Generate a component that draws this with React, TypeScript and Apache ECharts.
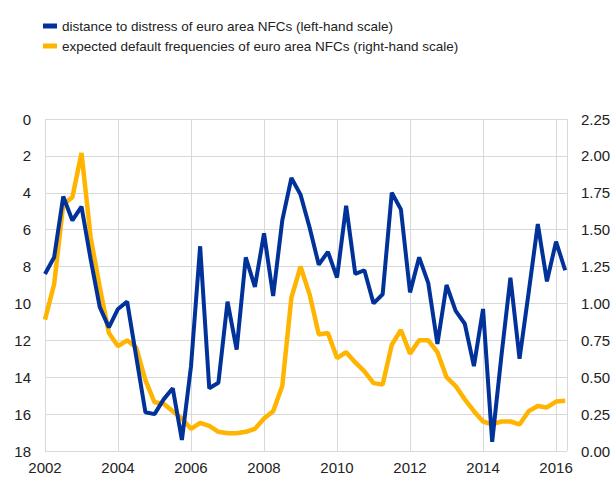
import React, { useEffect, useRef } from "react";
import * as echarts from "echarts";

const START_YEAR = 2002;
const distanceToDistress = [
  8.4, 7.5, 4.2, 5.5, 4.75, 7.6, 10.2, 11.3, 10.3, 9.9,
  12.9, 15.9, 16.0, 15.2, 14.6, 17.4, 13.4, 6.9, 14.6, 14.3,
  9.9, 12.5, 7.5, 9.1, 6.2, 9.6, 5.5, 3.2, 4.1, 5.9,
  7.9, 7.2, 8.6, 4.7, 8.4, 8.2, 10.0, 9.5, 4.0, 4.9,
  9.4, 7.5, 8.9, 12.2, 9.0, 10.4, 11.1, 13.4, 10.3, 17.5,
  12.9, 8.6, 13.0, 9.4, 5.7, 8.8, 6.65, 8.2,
];
const expectedDefault = [
  0.89, 1.13, 1.67, 1.72, 2.02, 1.45, 1.11, 0.8, 0.71, 0.75,
  0.7, 0.48, 0.33, 0.32, 0.27, 0.22, 0.15, 0.19, 0.17, 0.13,
  0.12, 0.12, 0.13, 0.15, 0.22, 0.27, 0.44, 1.04, 1.25, 1.06,
  0.79, 0.8, 0.63, 0.67, 0.6, 0.54, 0.46, 0.45, 0.72, 0.82,
  0.66, 0.75, 0.75, 0.67, 0.5, 0.44, 0.35, 0.27, 0.2, 0.18,
  0.2, 0.2, 0.18, 0.27, 0.305, 0.295, 0.335, 0.34,
];
const quarterDates = distanceToDistress.map((_, i) => START_YEAR + i * 0.25);
const seriesNames = [
  "distance to distress of euro area NFCs (left-hand scale)",
  "expected default frequencies of euro area NFCs (right-hand scale)",
];
const leftTicks = { min: 0, max: 18, interval: 2 };
const rightTicks = { min: 0, max: 2.25, interval: 0.25 };

export default function App() {
  const ref = useRef<HTMLDivElement>(null);
  useEffect(() => {
    if (!ref.current) return;
    const chart = echarts.init(ref.current, null, { renderer: "svg" });
    const grid = "#d9d9d9";
    const font = "Liberation Sans, Arial, sans-serif";
    chart.setOption({
      animation: false,
      textStyle: { fontFamily: font },
      legend: {
        orient: "vertical",
        left: 38,
        top: 14,
        itemWidth: 14,
        itemHeight: 5,
        itemGap: 6,
        icon: "rect",
        textStyle: { fontSize: 13.5, color: "#222", fontFamily: font },
        data: seriesNames.map((n) => ({ name: n, icon: "rect" })),
      },
      grid: { left: 45, right: 49, top: 119, bottom: 26, containLabel: false },
      xAxis: {
        type: "value",
        min: START_YEAR,
        max: 2016.3,
        interval: 2,
        axisLine: { show: false },
        axisTick: { show: false },
        splitLine: { show: true, lineStyle: { color: grid, width: 1 } },
        axisLabel: {
          fontSize: 15,
          color: "#222",
          margin: 9,
          showMaxLabel: false,
          formatter: (v: number) => (Math.abs(v % 2) < 1e-6 ? String(v) : ""),
        },
      },
      yAxis: [
        {
          type: "value",
          inverse: true,
          ...leftTicks,
          position: "left",
          axisLine: { show: false },
          axisTick: { show: false },
          splitLine: { show: true, lineStyle: { color: grid, width: 1 } },
          axisLabel: { fontSize: 15, color: "#222", margin: 14 },
        },
        {
          type: "value",
          ...rightTicks,
          position: "right",
          axisLine: { show: false },
          axisTick: { show: false },
          splitLine: { show: false },
          axisLabel: {
            fontSize: 15,
            color: "#222",
            margin: 14,
            formatter: (v: number) => v.toFixed(2),
          },
        },
      ],
      series: [
        {
          name: seriesNames[0],
          type: "line",
          yAxisIndex: 0,
          data: quarterDates.map((d, i) => [d, distanceToDistress[i]]),
          showSymbol: false,
          symbol: "none",
          lineStyle: { color: "#003299", width: 4 },
          itemStyle: { color: "#003299" },
          z: 3,
        },
        {
          name: seriesNames[1],
          type: "line",
          yAxisIndex: 1,
          data: quarterDates.map((d, i) => [d, expectedDefault[i]]),
          showSymbol: false,
          symbol: "none",
          lineStyle: { color: "#ffb400", width: 4.5 },
          itemStyle: { color: "#ffb400" },
          z: 2,
        },
      ],
    });
    return () => chart.dispose();
  }, []);
  return (
    <div
      ref={ref}
      style={{ position: "absolute", left: 0, top: 0, width: 616, height: 477 }}
    />
  );
}
